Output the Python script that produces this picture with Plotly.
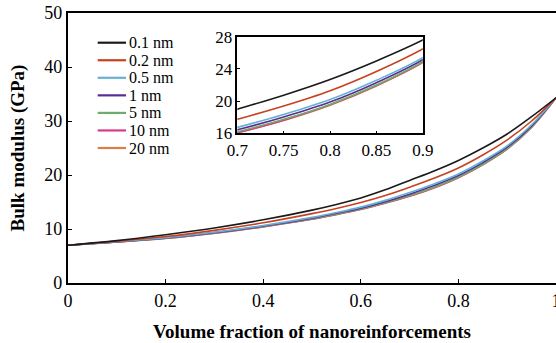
import plotly.graph_objects as go

# ---------------- data ----------------
vf = [0.0, 0.1, 0.2, 0.3, 0.4, 0.5, 0.55, 0.6, 0.65, 0.7, 0.75, 0.8, 0.85, 0.9, 0.95, 1.0]

k_01nm = [7.0, 7.85, 8.95, 10.2, 11.7, 13.5, 14.55, 15.75, 17.25, 19.0, 20.75, 22.7, 25.0, 27.6, 30.8, 34.3]
k_02nm = [7.0, 7.75, 8.6, 9.75, 11.15, 12.85, 13.8, 14.9, 16.2, 17.75, 19.4, 21.3, 23.7, 26.5, 30.0, 34.3]
k_05nm = [7.0, 7.65, 8.4, 9.4, 10.65, 12.15, 13.05, 14.05, 15.3, 16.75, 18.35, 20.2, 22.6, 25.4, 29.3, 34.3]
k_1nm = [7.0, 7.62, 8.35, 9.33, 10.55, 12.0, 12.9, 13.85, 15.05, 16.45, 18.05, 19.9, 22.3, 25.15, 29.1, 34.3]
k_5nm = [7.0, 7.6, 8.3, 9.27, 10.47, 11.9, 12.75, 13.7, 14.85, 16.2, 17.75, 19.6, 22.0, 24.9, 28.9, 34.3]
k_10nm = [7.0, 7.6, 8.28, 9.24, 10.43, 11.85, 12.7, 13.65, 14.8, 16.1, 17.65, 19.55, 21.95, 24.85, 28.85, 34.3]
k_20nm = [7.0, 7.58, 8.26, 9.2, 10.4, 11.8, 12.65, 13.6, 14.75, 16.05, 17.6, 19.5, 21.9, 24.8, 28.8, 34.3]

names = ["0.1 nm", "0.2 nm", "0.5 nm", "1 nm", "5 nm", "10 nm", "20 nm"]
series = [k_01nm, k_02nm, k_05nm, k_1nm, k_5nm, k_10nm, k_20nm]
colors = ["#1a1a1a", "#C9401E", "#66B0D8", "#5A2D8E", "#6AAE6A", "#D8398C", "#D97F48"]

main_yticks = [0, 10, 20, 30, 40, 50]
main_xticks = [0, 0.2, 0.4, 0.6, 0.8, 1.0]
main_xticklabels = ["0", "0.2", "0.4", "0.6", "0.8", "1"]
inset_xticks = [0.7, 0.75, 0.8, 0.85, 0.9]
inset_xticklabels = ["0.7", "0.75", "0.8", "0.85", "0.9"]
inset_yticks = [16, 20, 24, 28]

FONT = "Liberation Serif"

fig = go.Figure()

# main curves (20 nm first so black lies on top)
for name, y, c in reversed(list(zip(names, series, colors))):
    fig.add_trace(go.Scatter(x=vf, y=y, mode="lines", name=name,
                             line=dict(color=c, width=1.6, shape="spline", smoothing=1.0),
                             showlegend=False, xaxis="x", yaxis="y"))

# inset curves
for name, y, c in reversed(list(zip(names, series, colors))):
    fig.add_trace(go.Scatter(x=vf, y=y, mode="lines", name=name,
                             line=dict(color=c, width=1.6, shape="spline", smoothing=1.0),
                             showlegend=False, xaxis="x2", yaxis="y2"))

W, H = 556, 343
ML, MR, MT, MB = 68, 0, 13, 60

axis_common = dict(showline=True, linecolor="black", mirror=True, ticks="inside",
                   tickcolor="black", showgrid=False, zeroline=False, automargin=False,
                   ticklabeloverflow="allow",
                   tickfont=dict(family=FONT, size=18, color="black"))

fig.update_layout(
    width=W, height=H,
    margin=dict(l=ML, r=MR, t=MT, b=MB, autoexpand=False),
    paper_bgcolor="white", plot_bgcolor="white",
    showlegend=False,
    xaxis=dict(range=[0, 1.0], tickvals=main_xticks, ticktext=main_xticklabels,
               linewidth=2.2, ticklen=4, tickwidth=1,
               title=dict(text="<b>Volume fraction of nanoreinforcements</b>",
                          font=dict(family=FONT, size=19, color="black")),
               **axis_common),
    yaxis=dict(range=[0, 50], tickvals=main_yticks,
               linewidth=2.2, ticklen=4, tickwidth=1,
               title=dict(text="<b>Bulk modulus (GPa)</b>",
                          font=dict(family=FONT, size=19, color="black")),
               **axis_common),
    xaxis2=dict(domain=[0.347, 0.727], anchor="y2", range=[0.7, 0.9],
                tickvals=inset_xticks, ticktext=inset_xticklabels,
                linewidth=1.6, ticklen=3, tickwidth=1, **axis_common),
    yaxis2=dict(domain=[0.554, 0.912], anchor="x2", range=[16, 28],
                tickvals=inset_yticks, linewidth=1.6, ticklen=3, tickwidth=1,
                **axis_common),
)
fig.update_layout(xaxis2_tickfont_size=17, yaxis2_tickfont_size=17)

# white background for inset
fig.add_shape(type="rect", xref="x2 domain", yref="y2 domain", x0=0, x1=1, y0=0, y1=1,
              fillcolor="white", line=dict(width=0), layer="below")

# manual legend (compact row spacing as in the original)
leg_x0, leg_x1 = 97.7, 126.0
leg_y0, leg_dy = 42.7, 17.55
pw, ph = W - ML - MR, H - MT - MB
for i, (name, c) in enumerate(zip(names, colors)):
    ypix = leg_y0 + i * leg_dy
    yp = 1 - (ypix - MT) / ph
    fig.add_shape(type="line", xref="paper", yref="paper",
                  x0=(leg_x0 - ML) / pw, x1=(leg_x1 - ML) / pw, y0=yp, y1=yp,
                  line=dict(color=c, width=2.2))
    fig.add_annotation(xref="paper", yref="paper", x=(leg_x1 + 2 - ML) / pw, y=yp,
                       text=name, showarrow=False, xanchor="left", yanchor="middle",
                       height=17, borderpad=0,
                       font=dict(family=FONT, size=16, color="black"))

fig.write_html("out.html")
